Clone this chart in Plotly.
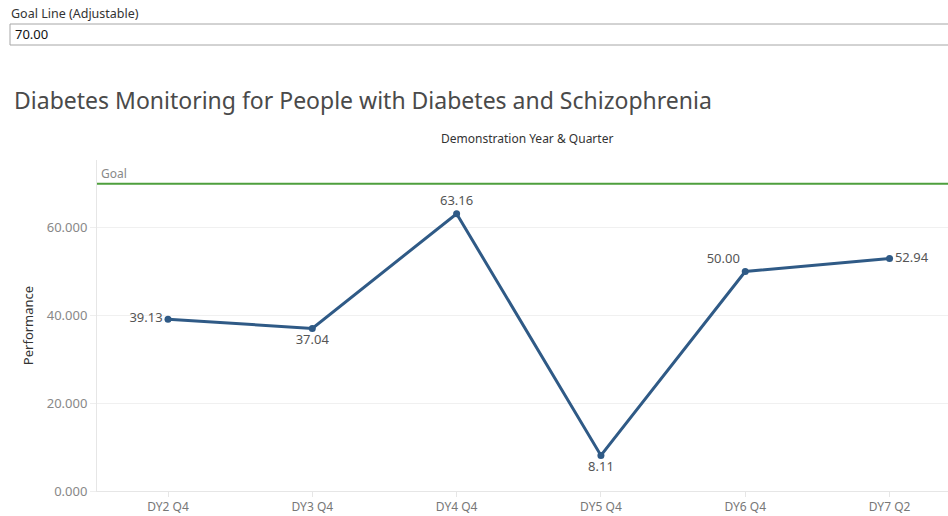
import plotly.graph_objects as go

categories = ["DY2 Q4", "DY3 Q4", "DY4 Q4", "DY5 Q4", "DY6 Q4", "DY7 Q2"]
performance = [39.13, 37.04, 63.16, 8.11, 50.00, 52.94]
label_pos = ["middle left", "bottom center", "top center", "bottom center", "top left", "middle right"]
goal_value = 70.0

W, H = 948, 516
L, R, T, B = 97, 948, 160, 491

def px(x):
    return (x - L) / (R - L)

def py(y):
    return (B - y) / (B - T)

FONT = "Noto Sans"

fig = go.Figure()
fig.add_trace(go.Scatter(
    x=list(range(len(categories))), y=performance,
    mode="lines+markers+text",
    line=dict(color="#2F5A86", width=3),
    marker=dict(color="#2F5A86", size=7),
    text=[f"{v:.2f}" for v in performance],
    textposition=label_pos,
    textfont=dict(family=FONT, size=13, color="#555555"),
    cliponaxis=False,
    hoverinfo="skip",
))

fig.add_shape(type="line", xref="paper", yref="y", x0=0, x1=1, y0=goal_value, y1=goal_value,
              line=dict(color="#4E9F3D", width=2))
fig.add_annotation(xref="paper", yref="y", x=px(99), y=goal_value, text="Goal", showarrow=False,
                   xanchor="left", yanchor="bottom", yshift=0,
                   font=dict(family=FONT, size=12, color="#888888"))

# Parameter control
fig.add_annotation(xref="paper", yref="paper", x=px(9), y=py(13), text="Goal Line (Adjustable)",
                   showarrow=False, xanchor="left", yanchor="middle",
                   font=dict(family=FONT, size=12.5, color="#333333"))
fig.add_shape(type="rect", xref="paper", yref="paper", x0=px(10), x1=px(960), y0=py(24), y1=py(45),
              line=dict(color="#A6A6A6", width=1), fillcolor="white")
fig.add_annotation(xref="paper", yref="paper", x=px(13), y=py(34), text=f"{goal_value:.2f}",
                   showarrow=False, xanchor="left", yanchor="middle",
                   font=dict(family=FONT, size=13, color="#111111"))

# Title
fig.add_annotation(xref="paper", yref="paper", x=px(12), y=py(100),
                   text="Diabetes Monitoring for People with Diabetes and Schizophrenia",
                   showarrow=False, xanchor="left", yanchor="middle",
                   font=dict(family=FONT, size=23, color="#4A4A4A"))
fig.add_annotation(xref="paper", yref="paper", x=px(527), y=py(138),
                   text="Demonstration Year & Quarter",
                   showarrow=False, xanchor="center", yanchor="middle",
                   font=dict(family=FONT, size=12, color="#333333"))

fig.update_layout(
    width=W, height=H,
    margin=dict(l=L, r=W - R, t=T, b=H - B),
    paper_bgcolor="white", plot_bgcolor="white",
    showlegend=False,
    xaxis=dict(
        range=[-0.492, 5.405],
        tickmode="array", tickvals=list(range(len(categories))), ticktext=categories,
        tickson="boundaries", ticks="outside", ticklen=5, tickcolor="#E6E6E6",
        showgrid=False, zeroline=False,
        showline=True, linecolor="#E6E6E6", linewidth=1,
        tickfont=dict(family=FONT, size=12, color="#777777"),
    ),
    yaxis=dict(
        range=[0, 75.4],
        tickmode="linear", tick0=0, dtick=20, tickformat=".3f",
        ticks="outside", ticklen=6, tickcolor="#EEEEEE",
        showgrid=True, gridcolor="#F0F0F0", zeroline=False,
        showline=True, linecolor="#E6E6E6", linewidth=1,
        tickfont=dict(family=FONT, size=13, color="#888888"),
        title=dict(text="Performance", font=dict(family=FONT, size=13, color="#333333"), standoff=10),
    ),
)

fig.write_html("out.html", config={"displayModeBar": False},
               post_script="document.body.style.margin='0';document.body.style.overflow='hidden';")
